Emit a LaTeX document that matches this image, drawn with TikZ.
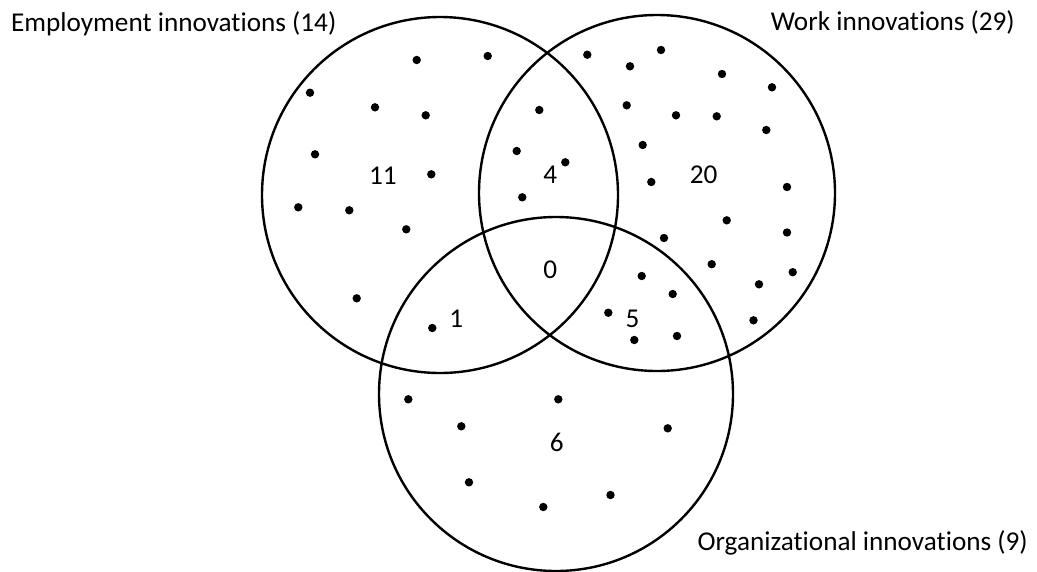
\documentclass[tikz,border=0pt]{standalone}
\usepackage{fontspec}
\setmainfont[Ligatures=NoCommon]{Carlito}
\begin{document}
\begin{tikzpicture}[x=1pt,y=-1pt,
  setline/.style={line width=2.4pt},
  item/.style={fill=black},
  setlabel/.style={inner sep=0pt,font=\fontsize{27.2}{32}\selectfont},
  count/.style={inner sep=0pt,anchor=base,font=\fontsize{27.2}{32}\selectfont}]
\useasboundingbox (0,0) rectangle (1037,571);

% the three sets
\draw[setline] (440,195) circle[radius=178];
\draw[setline] (657,193) circle[radius=178];
\draw[setline] (556,394) circle[radius=177];

% set titles
\node[setlabel,anchor=base west] (emp) at (11,31.7) {Employment innovations (14)};
\node[setlabel,anchor=base east] (work) at (1015,30.5) {Work innovations (29)};
\node[setlabel,anchor=base east] (org) at (1028,550) {Organizational innovations (9)};

% region counts
\node[count] (n11) at (382.8,184) {11};
\node[count] (n4) at (550.3,183.3) {4};
\node[count] (n20) at (703.7,183.3) {20};
\node[count] (n0) at (550.3,278.3) {0};
\node[count] (n1) at (456.3,327.3) {1};
\node[count] (n5) at (632.5,327.3) {5};
\node[count] (n6) at (556.7,451.7) {6};

% employment only
\foreach \p in {(416.7,60),(487.7,56),(310,92.7),(375,107.3),(425.7,115.3),
  (315,154.3),(431.3,174.3),(298.3,207.3),(349.3,210.3),(406.3,229.3),(356.7,298.3)}
  \fill[item] \p circle[radius=4.2];
% employment and work
\foreach \p in {(539.3,110),(516.7,151),(565.3,162.3),(522.3,197.3)}
  \fill[item] \p circle[radius=4.2];
% work only
\foreach \p in {(587.3,54.7),(661,50),(630,66.3),(722,74),(772,87.3),(626.7,105.3),
  (676,115.3),(716.7,116.3),(766.3,130),(642.7,145),(651.3,182),(787,187),
  (726.7,220.3),(664,238),(787,232.5),(711.7,264.2),(792.7,272.2),(759,284.3),(753.5,320.3)}
  \fill[item] \p circle[radius=4.2];
% work and organizational
\foreach \p in {(641.7,276),(672.7,294),(608.3,312.7),(634.3,340),(677,336)}
  \fill[item] \p circle[radius=4.2];
% employment and organizational
\fill[item] (432.3,328) circle[radius=4.2];
% organizational only
\foreach \p in {(408.3,399.3),(558.3,399.3),(461.3,426.3),(667.7,428.3),
  (469,482.3),(610.5,495),(543.3,507)}
  \fill[item] \p circle[radius=4.2];
\end{tikzpicture}
\end{document}
